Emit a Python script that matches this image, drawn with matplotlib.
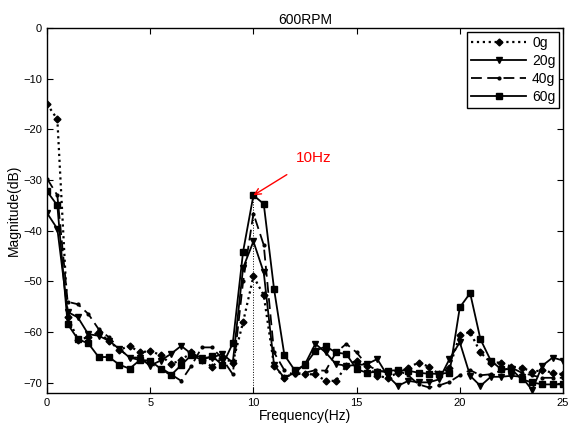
import numpy as np
import matplotlib
matplotlib.use("Agg")
import matplotlib.pyplot as plt

plt.rcParams['font.family'] = ['Liberation Sans', 'DejaVu Sans']

freq = np.arange(0, 25.5, 0.5)

mag_0g = [-15, -18, -57, -61.5, -61, -60, -61.7, -63.5, -62.7, -64,
          -63.7, -64.5, -66.3, -65.5, -64, -65.5, -66.8, -65, -66, -58,
          -49, -52.7, -66.6, -69, -68, -68.3, -68.3, -69.6, -69.6, -66.6,
          -65.6, -66.6, -68.6, -69, -68, -67, -66, -66.8, -68.3, -67,
          -60.5, -60, -64, -66, -66, -66.8, -67, -67.8, -67.5, -68, -68.3]

mag_20g = [-36.5, -39.6, -56, -57.1, -60.4, -60.7, -61.7, -63.3, -65, -65,
           -66.6, -65.6, -64.3, -62.7, -64.3, -65, -65, -64.3, -66, -47.3,
           -42.1, -48.2, -66.5, -69, -68, -66.3, -62.3, -64, -66.3, -66.6,
           -66.5, -66.3, -65.3, -68.6, -70.6, -69.6, -69.9, -69.9, -69.3, -65.3,
           -62, -68.6, -70.6, -68.8, -68.8, -68.6, -68.8, -71.4, -66.6, -65, -65.6]

mag_40g = [-29.7, -33, -54, -54.5, -56.4, -59.4, -61, -63.3, -65, -65.5,
           -66.3, -67, -68.3, -69.6, -66.6, -63, -63, -65.3, -68.3, -50,
           -36.6, -42.8, -64, -67.5, -68.5, -68, -67.5, -67.6, -64, -62.3,
           -64, -66.5, -67.5, -68, -67.5, -68.5, -70.3, -70.9, -70.5, -69.8,
           -68.5, -67.5, -68.5, -68.3, -67.6, -67, -68, -68.5, -69, -69, -69]

mag_60g = [-32.2, -35, -58.4, -61.4, -62.2, -64.9, -64.9, -66.4, -67.2, -65.5,
           -65.6, -67.2, -68.5, -66.5, -64.5, -65.5, -64.7, -66.5, -62.2, -44.1,
           -33, -34.7, -51.5, -64.5, -67.5, -66.5, -63.7, -62.8, -64, -64.3,
           -67.3, -68, -67.8, -67.6, -67.5, -67.6, -68, -68.2, -68.2, -68,
           -55.1, -52.3, -61.4, -65.6, -67.3, -67.3, -69.3, -69.9, -70.3, -70.3, -70.3]

labels = ['0g', '20g', '40g', '60g']
peak_freq = 10
peak_label = '10Hz'

fig = plt.figure(figsize=(5.79, 4.30), dpi=100)
ax = fig.add_axes([0.0812, 0.086, 0.8912, 0.8489])

lw = 1.3
ax.plot(freq, mag_0g, color='black', linestyle=':', linewidth=1.6,
        marker='D', markersize=3.5, label=labels[0])
ax.plot(freq, mag_20g, color='black', linestyle='-', linewidth=lw,
        marker='v', markersize=5, label=labels[1])
ax.plot(freq, mag_40g, color='black', linestyle=(0, (6, 3)), linewidth=lw,
        marker='o', markersize=2, label=labels[2])
ax.plot(freq, mag_60g, color='black', linestyle='-', linewidth=lw,
        marker='s', markersize=4, label=labels[3])

ymin = -72
peak_val = mag_60g[list(freq).index(peak_freq)]
ax.plot([peak_freq, peak_freq], [ymin, peak_val], color='black',
        linestyle=':', linewidth=0.7)

ax.annotate(peak_label, xy=(peak_freq, peak_val), xytext=(12.9, -25.7),
            color='red', fontsize=11, ha='center', va='center',
            arrowprops=dict(arrowstyle='->', color='red', lw=1.0,
                            shrinkA=9, shrinkB=0))

ax.set_xlim(0, 25)
ax.set_ylim(ymin, 0)
ax.set_xticks([0, 5, 10, 15, 20, 25])
ax.set_yticks([0, -10, -20, -30, -40, -50, -60, -70])
ax.tick_params(direction='in', top=True, right=True, labelsize=8, length=4)
for s in ax.spines.values():
    s.set_linewidth(1.0)

ax.set_title('600RPM', fontsize=10, pad=3)
ax.set_xlabel('Frequency(Hz)', fontsize=10, labelpad=1)
ax.set_ylabel('Magnitude(dB)', fontsize=10, labelpad=2)

leg = ax.legend(loc='upper right', fontsize=10, handlelength=4.0,
                fancybox=False, framealpha=1, edgecolor='black',
                borderpad=0.25, labelspacing=0.3, handletextpad=0.4,
                borderaxespad=0.3)
leg.get_frame().set_linewidth(1.0)

fig.savefig('out.png', dpi=100)
